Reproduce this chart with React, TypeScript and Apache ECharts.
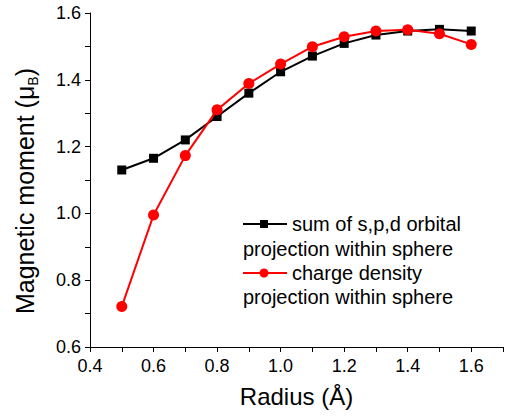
import React, { useEffect, useRef } from "react";
import * as echarts from "echarts";

const radius = [0.5, 0.6, 0.7, 0.8, 0.9, 1.0, 1.1, 1.2, 1.3, 1.4, 1.5, 1.6];
const spdSum = [1.130, 1.165, 1.220, 1.290, 1.360, 1.424, 1.471, 1.509, 1.534, 1.546, 1.551, 1.546];
const chargeDensity = [0.721, 0.995, 1.173, 1.310, 1.389, 1.447, 1.499, 1.529, 1.546, 1.550, 1.538, 1.506];

const seriesNames = ["sum of s,p,d orbital", "charge density"];
const legendSecondLine = "projection within sphere";
const xTitle = "Radius (Å)";

const FONT = "'Liberation Sans', Arial, Helvetica, sans-serif";

export default function App() {
  const ref = useRef<HTMLDivElement>(null);
  useEffect(() => {
    if (!ref.current) return;
    const chart = echarts.init(ref.current, null, { renderer: "svg" });
    const evenLabel = (v: number) => {
      const k = Math.round(v * 10);
      return k % 2 === 0 ? (k / 10).toFixed(1) : "";
    };
    const axisCommon = {
      axisLine: { show: true, onZero: false, lineStyle: { color: "#000", width: 1 } },
      axisTick: { show: true, inside: false, length: 5, lineStyle: { color: "#000", width: 1 } },
      splitLine: { show: false },
      axisLabel: { color: "#000", fontSize: 18, fontFamily: FONT, formatter: evenLabel },
    };
    const textStyle = { fill: "#000", font: `20px ${FONT}`, verticalAlign: "middle", align: "left" };
    chart.setOption({
      animation: false,
      backgroundColor: "#fff",
      grid: { left: 90, right: 9, top: 13, bottom: 69, containLabel: false, outerBoundsMode: "none" },
      xAxis: {
        type: "value",
        min: 0.4,
        max: 1.7,
        interval: 0.1,
        ...axisCommon,
        axisLabel: { ...axisCommon.axisLabel, margin: 10 },
        name: xTitle,
        nameLocation: "middle",
        nameGap: 37,
        nameTextStyle: { color: "#000", fontSize: 24, fontFamily: FONT },
      },
      yAxis: {
        type: "value",
        min: 0.6,
        max: 1.6,
        interval: 0.1,
        ...axisCommon,
        axisLabel: { ...axisCommon.axisLabel, margin: 9 },
        name: "{a|Magnetic moment (μ}{b|B}{a|)}",
        nameLocation: "middle",
        nameGap: 50,
        nameRotate: 90,
        nameTextStyle: {
          color: "#000",
          fontFamily: FONT,
          padding: [0, 22, 0, 0],
          rich: {
            a: { fontSize: 25, fontFamily: FONT, color: "#000", lineHeight: 30, verticalAlign: "middle" },
            b: { fontSize: 14, fontFamily: FONT, color: "#000", lineHeight: 14, verticalAlign: "bottom" },
          },
        },
      },
      series: [
        {
          name: seriesNames[0],
          type: "line",
          data: radius.map((r, i) => [r, spdSum[i]]),
          symbol: "rect",
          symbolSize: 9,
          itemStyle: { color: "#000" },
          lineStyle: { color: "#000", width: 2 },
          z: 2,
        },
        {
          name: seriesNames[1],
          type: "line",
          data: radius.map((r, i) => [r, chargeDensity[i]]),
          symbol: "circle",
          symbolSize: 11,
          itemStyle: { color: "#ff0000" },
          lineStyle: { color: "#ff0000", width: 2 },
          z: 3,
        },
      ],
      graphic: [
        { type: "line", shape: { x1: 243, y1: 224, x2: 287, y2: 224 }, style: { stroke: "#000", lineWidth: 2 } },
        { type: "rect", shape: { x: 260, y: 220, width: 8, height: 8 }, style: { fill: "#000" } },
        { type: "text", x: 292, y: 224, style: { ...textStyle, text: seriesNames[0] } },
        { type: "text", x: 243, y: 249, style: { ...textStyle, text: legendSecondLine } },
        { type: "line", shape: { x1: 243, y1: 273, x2: 287, y2: 273 }, style: { stroke: "#ff0000", lineWidth: 2 } },
        { type: "circle", shape: { cx: 264, cy: 273, r: 4.5 }, style: { fill: "#ff0000" } },
        { type: "text", x: 292, y: 273, style: { ...textStyle, text: seriesNames[1] } },
        { type: "text", x: 243, y: 297, style: { ...textStyle, text: legendSecondLine } },
      ],
    });
    return () => chart.dispose();
  }, []);
  return (
    <div
      ref={ref}
      style={{ position: "fixed", left: 0, top: 0, width: 512, height: 416, background: "#fff" }}
    />
  );
}
